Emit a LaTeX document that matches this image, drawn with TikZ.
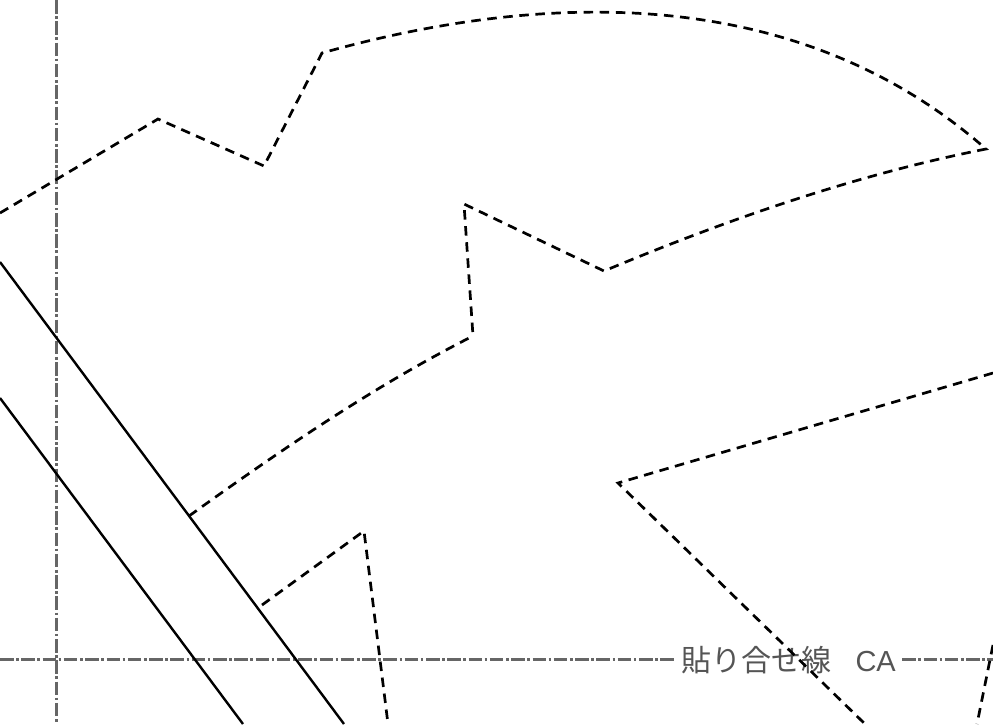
\documentclass[tikz,border=0pt]{standalone}
\usepackage{fontspec}
\setmainfont{Liberation Sans}
\newfontfamily\cjkfont{Noto Sans CJK JP}
\definecolor{guide}{HTML}{666666}
\definecolor{labelgray}{HTML}{555555}
\tikzset{
  cutline/.style={black,line width=2.7pt,dash pattern=on 9.5pt off 6.6pt},
  solidline/.style={black,line width=2.4pt},
  guideline/.style={guide,line width=2.8pt,dash pattern=on 13.5pt off 2.6pt on 2.6pt off 2.6pt},
  seamlabel/.style={labelgray,inner sep=0pt,outer xsep=6.5pt,anchor=west,font=\fontsize{29pt}{29pt}\selectfont}
}
\begin{document}
\begin{tikzpicture}[x=1pt,y=-1pt]
\useasboundingbox (0,0) rectangle (993,724);
\clip (0,0) rectangle (993,724);
\fill[white] (0,0) rectangle (993,724);
% guides
\coordinate (vt) at (56.4,0);
\coordinate (vb) at (56.4,724);
\coordinate (hl) at (0,659.3);
\coordinate (hr) at (993,659.3);
\draw[guideline] (vt) -- (vb);
\node[seamlabel] (seam) at (675,660.2) {{\cjkfont\fontsize{30pt}{30pt}\selectfont 貼り合せ線}\hspace{24pt}CA};
\draw[guideline] (hl) -- (hl -| seam.west);
\draw[guideline] (hr -| seam.east) -- (hr);
% solid lines
\coordinate (s1a) at (0,262);
\coordinate (s1b) at (344,724);
\coordinate (s2a) at (0,398);
\coordinate (s2b) at (243,724);
\draw[solidline] (s1a) -- (s1b);
\draw[solidline] (s2a) -- (s2b);
% dashed outlines
\draw[cutline,line join=miter] (0,213) -- (158,119) -- (264,166) -- (322,53)
  .. controls (521,-3) and (787,-26) .. (986,149)
  .. controls (859,174) and (731,218) .. (604,271)
  -- (464,204) -- (473,336);
\draw[cutline] (189,516) .. controls (285,447) and (378,384) .. (473,336);
\draw[cutline] (262,605) -- (364,531) -- (388,724);
\draw[cutline] (993,373) -- (618,483) -- (865,724);
\draw[cutline] (993,645) -- (977,724);
\end{tikzpicture}
\end{document}
